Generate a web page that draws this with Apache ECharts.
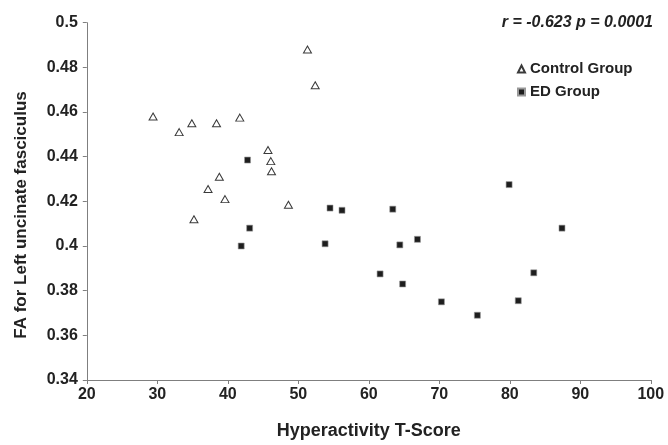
<!DOCTYPE html>
<html>
<head>
<meta charset="utf-8">
<script src="https://cdn.jsdelivr.net/npm/echarts@6/dist/echarts.min.js"></script>
<style>
html,body{margin:0;padding:0;background:#fff;}
#chart{width:668px;height:445px;}
</style>
</head>
<body>
<div id="chart"></div>
<script>
// Control group (x: Hyperactivity T-score, y: FA)
var controlX = [51.3, 52.4, 29.4, 34.9, 38.4, 41.7, 33.1, 45.7, 46.1, 46.2, 38.8, 37.2, 39.6, 48.6, 35.2];
var controlY = [0.488, 0.472, 0.458, 0.455, 0.455, 0.4575, 0.451, 0.443, 0.438, 0.4335, 0.431, 0.4255, 0.421, 0.4185, 0.412];
// ED group
var edX = [42.8, 54.5, 56.2, 63.4, 43.1, 41.9, 53.8, 61.6, 79.9, 87.4, 66.9, 64.4, 83.4, 64.8, 70.3, 81.2, 75.4];
var edY = [0.4385, 0.417, 0.416, 0.4165, 0.408, 0.400, 0.401, 0.3875, 0.4275, 0.408, 0.403, 0.4005, 0.388, 0.383, 0.375, 0.3755, 0.369];
var seriesNames = ['Control Group', 'ED Group'];
var xTicks = [20, 30, 40, 50, 60, 70, 80, 90, 100];
var yTicks = ['0.34', '0.36', '0.38', '0.4', '0.42', '0.44', '0.46', '0.48', '0.5'];
var xTitle = 'Hyperactivity T-Score';
var yTitle = 'FA for Left uncinate fasciculus';
var statText = 'r = -0.623 p = 0.0001';

function zip(a, b) { return a.map(function (v, i) { return [v, b[i]]; }); }

var chart = echarts.init(document.getElementById('chart'), null, {renderer: 'canvas'});
var font = 'Liberation Sans, Arial, sans-serif';
var axisColor = '#7f7f7f';
var textColor = '#222';

chart.setOption({
  animation: false,
  backgroundColor: '#fff',
  grid: {left: 86.8, right: 17.2, top: 22.7, bottom: 59.3, containLabel: false},
  xAxis: {
    type: 'value', min: xTicks[0], max: xTicks[xTicks.length - 1], interval: 10,
    name: xTitle, nameLocation: 'middle', nameGap: 42,
    nameTextStyle: {fontFamily: font, fontSize: 18, fontWeight: 'bold', color: textColor},
    axisLine: {show: true, onZero: false, lineStyle: {color: axisColor, width: 1}},
    axisTick: {show: true, length: 4, lineStyle: {color: axisColor}},
    axisLabel: {fontFamily: font, fontSize: 16, fontWeight: 'bold', color: textColor, margin: 7,
      formatter: function (v) { return String(v); }},
    splitLine: {show: false}
  },
  yAxis: {
    type: 'value', min: 0.34, max: 0.5, interval: 0.02,
    axisLine: {show: true, onZero: false, lineStyle: {color: axisColor, width: 1}},
    axisTick: {show: true, length: 4, lineStyle: {color: axisColor}},
    axisLabel: {fontFamily: font, fontSize: 16, fontWeight: 'bold', color: textColor, margin: 9,
      formatter: function (v) { var i = Math.round((v - 0.34) / 0.02); return yTicks[i]; }},
    splitLine: {show: false}
  },
  legend: {
    orient: 'vertical', left: 512, top: 56, itemWidth: 7, itemHeight: 7, itemGap: 7,
    textStyle: {fontFamily: font, fontSize: 15, fontWeight: 'bold', color: textColor, lineHeight: 16},
    data: seriesNames
  },
  graphic: [
    {type: 'text', x: 653, y: 22.7,
      style: {text: statText, font: 'italic bold 16px ' + font, fill: textColor, align: 'right', verticalAlign: 'middle'}},
    {type: 'text', x: 21, y: 215, rotation: Math.PI / 2,
      style: {text: yTitle, font: 'bold 17px ' + font, fill: textColor, align: 'center', verticalAlign: 'middle'}}
  ],
  series: [
    {name: seriesNames[0], type: 'scatter', data: zip(controlX, controlY),
      symbol: 'triangle', symbolSize: [8, 7],
      itemStyle: {color: '#fff', borderColor: '#3a3a3a', borderWidth: 1, opacity: 1}},
    {name: seriesNames[1], type: 'scatter', data: zip(edX, edY),
      symbol: 'rect', symbolSize: 6,
      itemStyle: {color: '#1e1e1e', borderColor: '#999', borderWidth: 0.6, opacity: 1}}
  ]
});
</script>
</body>
</html>
